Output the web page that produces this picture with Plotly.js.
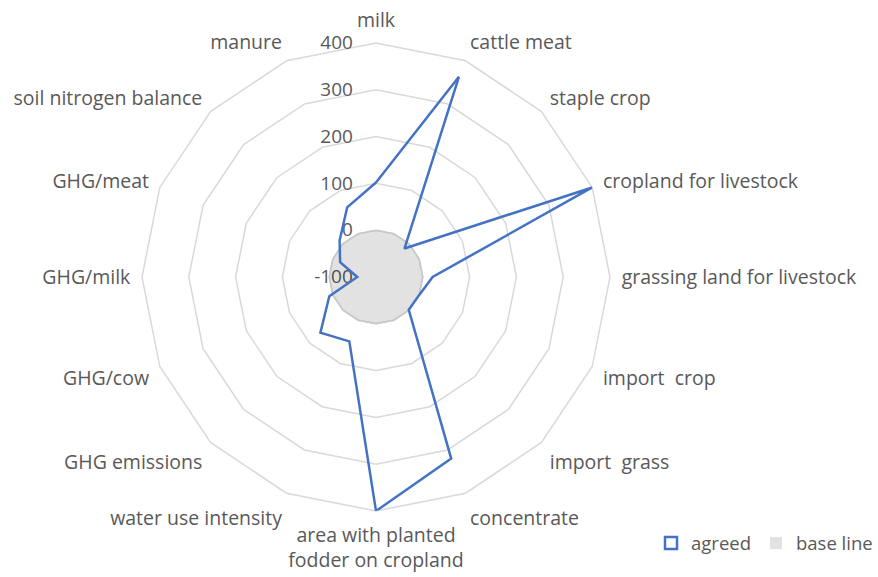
<!DOCTYPE html>
<html>
<head>
<meta charset="utf-8">
<script src="https://cdn.plot.ly/plotly-3.0.1.min.js"></script>
<style>html,body{margin:0;padding:0;background:#fff;}#chart{width:878px;height:577px;}</style>
</head>
<body>
<div id="chart"></div>
<script>
const categories = ["milk", "cattle meat", "staple crop", "cropland for livestock", "grassing land for livestock",
  "import  crop", "import  grass", "concentrate", "area with planted<br>fodder on cropland", "water use intensity",
  "GHG emissions", "GHG/cow", "GHG/milk", "GHG/meat", "soil nitrogen balance", "manure"];
const agreed = [102, 363, -14, 400, 21, 0, -1, 320, 400, 49, 68, 8, -60, -17, 10, 61];
const baseLine = [0, 0, 0, 0, 0, 0, 0, 0, 0, 0, 0, 0, 0, 0, 0, 0];
const radialTicks = [-100, 0, 100, 200, 300, 400];

const closeLoop = a => a.concat([a[0]]);
const FONT = "Open Sans";
const TXT = "#595959";

const traces = [
  {
    type: "scatterpolar", name: "base line",
    r: closeLoop(baseLine), theta: closeLoop(categories),
    mode: "lines", fill: "toself", fillcolor: "rgba(0,0,0,0.115)",
    line: {color: "#c8c8c8", width: 1.5}, showlegend: false, hoverinfo: "skip"
  },
  {
    type: "scatterpolar", name: "agreed",
    r: closeLoop(agreed), theta: closeLoop(categories),
    mode: "lines", line: {color: "#4472C4", width: 2.5}, showlegend: false
  },
  {
    type: "scatterpolar", name: "agreed", r: [null], theta: [categories[0]],
    mode: "markers", marker: {symbol: "square-open", size: 12, color: "#4472C4", line: {width: 2.5, color: "#4472C4"}}
  },
  {
    type: "scatterpolar", name: "base line", r: [null], theta: [categories[0]],
    mode: "markers", marker: {symbol: "square", size: 12, color: "#e2e2e2"}
  }
];

const layout = {
  width: 878, height: 577,
  margin: {l: 0, r: 0, t: 0, b: 0},
  paper_bgcolor: "#ffffff", plot_bgcolor: "#ffffff",
  font: {family: FONT, size: 19, color: TXT},
  showlegend: true,
  legend: {orientation: "h", x: 1.0, xanchor: "right", y: 0.025, yanchor: "bottom",
    font: {family: FONT, size: 18.5, color: TXT}, itemwidth: 20, tracegroupgap: 0},
  polar: {
    domain: {x: [0.1617, 0.6948], y: [0.1144, 0.9255]},
    gridshape: "linear",
    bgcolor: "rgba(0,0,0,0)",
    radialaxis: {
      range: [-100, 400], tickvals: radialTicks, ticktext: radialTicks.map(String),
      angle: 90, side: "counterclockwise", showline: false,
      ticks: "outside", ticklen: 16, tickcolor: "rgba(0,0,0,0)",
      showgrid: true, gridcolor: "#d9d9d9", gridwidth: 1.5,
      tickfont: {family: FONT, size: 19, color: TXT}, tickangle: 90, layer: "below traces"
    },
    angularaxis: {
      type: "category", categoryarray: categories, direction: "clockwise", rotation: 90,
      showgrid: false, showline: true, linecolor: "#d9d9d9", linewidth: 1.5,
      ticks: "outside", ticklen: 7, tickcolor: "rgba(0,0,0,0)",
      tickfont: {family: FONT, size: 19.5, color: TXT}, layer: "below traces"
    }
  }
};

Plotly.newPlot("chart", traces, layout, {displayModeBar: false, staticPlot: true});
</script>
</body>
</html>
